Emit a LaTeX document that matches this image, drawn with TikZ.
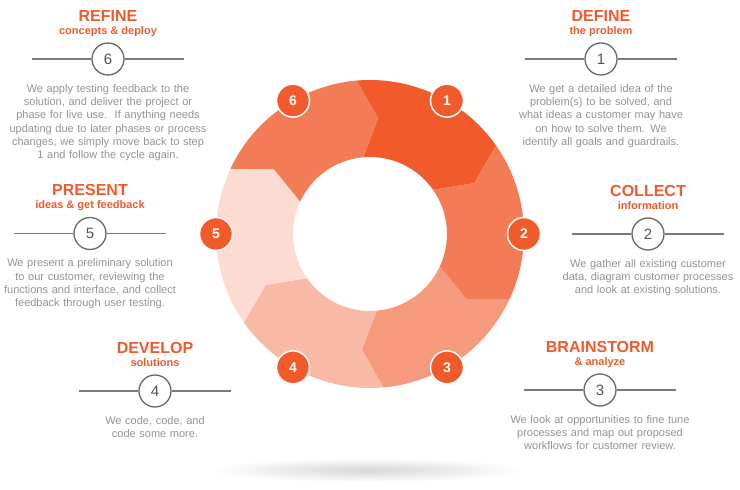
\documentclass[tikz,border=0pt]{standalone}
\usepackage{fontspec}
\setmainfont{Liberation Sans}
\usetikzlibrary{calc}
\definecolor{orng}{HTML}{F15A2B}
\definecolor{segA}{HTML}{F15A2B}
\definecolor{segB}{HTML}{F37B56}
\definecolor{segC}{HTML}{F59A7D}
\definecolor{segD}{HTML}{F8BAA6}
\definecolor{segE}{HTML}{FCDCD2}
\definecolor{bodygray}{HTML}{939393}
\definecolor{linegray}{HTML}{7A7A7A}
\definecolor{numgray}{HTML}{555555}
\tikzset{
  numcirc/.style={circle, draw=linegray!85!black, line width=1.3pt, minimum size=32pt, inner sep=0pt, fill=white,
    text=numgray, font=\fontsize{15}{15}\selectfont},
  hline/.style={draw=linegray, line width=1.5pt},
  ttl/.style={text=orng, font=\fontsize{16}{16}\selectfont\bfseries, inner sep=0pt},
  subttl/.style={text=orng, font=\fontsize{11}{11}\selectfont\bfseries, inner sep=0pt},
  para/.style={text=bodygray, font=\fontsize{11}{13.25}\selectfont, align=center, text width=240pt, inner sep=0pt},
  badge/.style={circle, fill=orng, draw=white, line width=1.5pt, minimum size=33pt, inner sep=0pt,
    text=white, font=\fontsize{14}{14}\selectfont\bfseries},
}
% #1 name, #2 x, #3 line y, #4 title, #5 subtitle, #6 number, #7 text
\newcommand{\stepblock}[7]{%
  \node[numcirc] (#1n) at (#2,#3) {#6};
  \coordinate (#1l) at (#2-76,#3);
  \coordinate (#1r) at (#2+76,#3);
  \draw[hline] (#1l) -- (#1n);
  \draw[hline] (#1n) -- (#1r);
  \node[ttl, anchor=base] (#1t) at (#2,#3+37.5) {#4};
  \node[subttl, anchor=base] (#1s) at (#2,#3+24.5) {#5};
  \node[para, anchor=base] (#1p) at (#2,#3-33.3) {#7};
}
\begin{document}
\begin{tikzpicture}[x=1pt,y=1pt]
\useasboundingbox (0,0) rectangle (740,490);
% shadow
\shade[inner color=black!16, outer color=white] (367,20) ellipse [x radius=158pt, y radius=12pt];
% ring
\begin{scope}[shift={(370,256)}]
  \foreach \k/\c in {1/segA,2/segB,3/segC,4/segD,5/segE,6/segB}{
    \pgfmathsetmacro{\a}{95-60*(\k-1)}
    \pgfmathsetmacro{\b}{\a-60}
    \fill[\c] (\a:154pt) arc[start angle=\a, end angle=\b, radius=154pt]
      -- (\b-9:116pt) -- (\b:77pt) arc[start angle=\b, end angle=\a, radius=77pt]
      -- (\a-9:116pt) -- cycle;
  }
  \node[badge] (b1) at (60:154pt) {1};
  \node[badge] (b2) at (0:154pt) {2};
  \node[badge] (b3) at (-60:154pt) {3};
  \node[badge] (b4) at (-120:154pt) {4};
  \node[badge] (b5) at (180:154pt) {5};
  \node[badge] (b6) at (120:154pt) {6};
\end{scope}
\stepblock{rf}{108}{431}{REFINE}{concepts \& deploy}{6}{We apply testing feedback to the\\ solution, and deliver the project or\\ phase for live use.\ \ If anything needs\\ updating due to later phases or process\\ changes, we simply move back to step\\ 1 and follow the cycle again.}
\stepblock{df}{601}{431}{DEFINE}{the problem}{1}{We get a detailed idea of the\\ problem(s) to be solved, and\\ what ideas a customer may have\\ on how to solve them. We\\ identify all goals and guardrails.}
\stepblock{pr}{90}{256.5}{PRESENT}{ideas \& get feedback}{5}{We present a preliminary solution\\ to our customer, reviewing the\\ functions and interface, and collect\\ feedback through user testing.}
\stepblock{co}{648}{256}{COLLECT}{information}{2}{We gather all existing customer\\ data, diagram customer processes\\ and look at existing solutions.}
\stepblock{dv}{155}{99}{DEVELOP}{solutions}{4}{We code, code, and\\ code some more.}
\stepblock{bs}{600}{100}{BRAINSTORM}{\& analyze}{3}{We look at opportunities to fine tune\\ processes and map out proposed\\ workflows for customer review.}
\end{tikzpicture}
\end{document}
